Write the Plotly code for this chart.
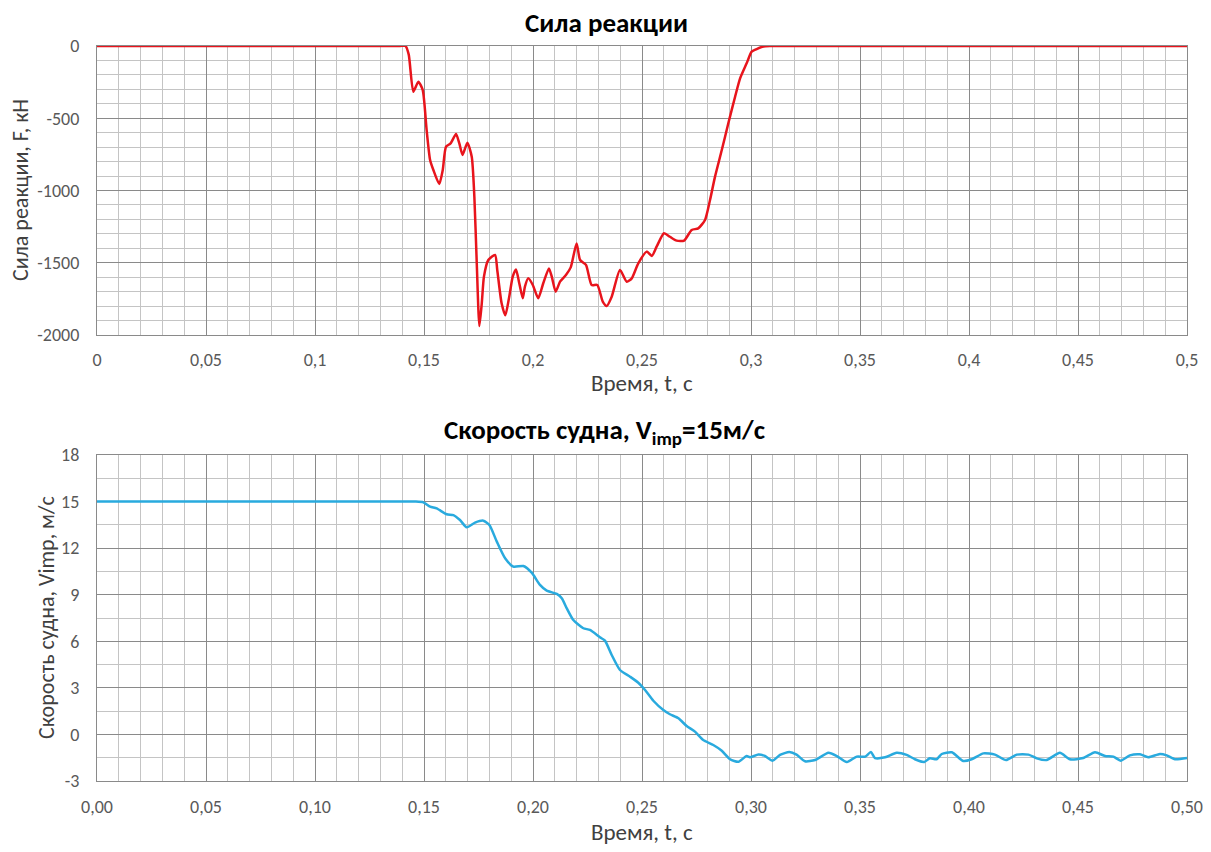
import plotly.graph_objects as go

# ---- data ----
t_force = [0.0, 0.139, 0.1415, 0.1430, 0.1451, 0.1474, 0.1494, 0.1512, 0.1528, 0.1543, 0.1570,
           0.1586, 0.1601, 0.1622, 0.1647, 0.1662, 0.1677, 0.1699, 0.1719, 0.1731, 0.1742,
           0.1754, 0.1765, 0.1775, 0.1795, 0.1826, 0.1836, 0.1856, 0.1873, 0.1891, 0.1907,
           0.1922, 0.1937, 0.1953, 0.1963, 0.1978, 0.1999, 0.2024, 0.2047, 0.2073, 0.2086,
           0.2104, 0.2124, 0.2151, 0.2173, 0.2200, 0.2216, 0.2243, 0.2269, 0.2295, 0.2320,
           0.2338, 0.2361, 0.2399, 0.2430, 0.2453, 0.2483, 0.2522, 0.2545, 0.2567, 0.2601,
           0.2628, 0.2659, 0.2693, 0.2728, 0.2758, 0.2789, 0.2812, 0.2835, 0.2866, 0.2896,
           0.2927, 0.2950, 0.2980, 0.3003, 0.3026, 0.3057, 0.3090, 0.3150, 0.500]
force = [0, 0, 0, -60, -316, -247, -304, -581, -789, -858, -955,
         -858, -697, -674, -609, -674, -754, -669, -766, -1043, -1504,
         -1938, -1781, -1596, -1481, -1446, -1550, -1781, -1864, -1735, -1596,
         -1546, -1642, -1746, -1665, -1608, -1654, -1746, -1642, -1539, -1596,
         -1700, -1631, -1585, -1532, -1366, -1481, -1515, -1654, -1654, -1769,
         -1799, -1735, -1550, -1631, -1608, -1504, -1423, -1453, -1389, -1296,
         -1320, -1347, -1347, -1273, -1262, -1204, -1066, -904, -720, -535,
         -351, -224, -120, -39, -21, -3, 0, 0, 0]

t_speed = [0.0, 0.140, 0.146, 0.1497, 0.1528, 0.1558, 0.1604, 0.1635, 0.1665, 0.1696, 0.1734, 0.1772,
           0.1800, 0.1834, 0.1872, 0.1910, 0.1956, 0.1994, 0.2032, 0.2063, 0.2109, 0.2132,
           0.2155, 0.2185, 0.2231, 0.2261, 0.2307, 0.2330, 0.2361, 0.2399, 0.2445, 0.2483,
           0.2514, 0.2552, 0.2598, 0.2628, 0.2667, 0.2705, 0.2743, 0.2781, 0.2827, 0.2866,
           0.2904, 0.2942, 0.2980, 0.2995, 0.3034, 0.3064, 0.3099, 0.3133, 0.3176, 0.3209,
           0.3248, 0.3294, 0.3355, 0.3394, 0.3439, 0.3485, 0.3524, 0.3550, 0.3569, 0.3615,
           0.3668, 0.3714, 0.3752, 0.3794, 0.3820, 0.3851, 0.3875, 0.3921, 0.3974, 0.4012,
           0.4066, 0.4119, 0.4170, 0.4219, 0.4273, 0.4311, 0.4356, 0.4417, 0.4463, 0.4524,
           0.4578, 0.4624, 0.4662, 0.4696, 0.4738, 0.4784, 0.4822, 0.4876, 0.4907, 0.4945, 0.5000]
speed = [15.0, 15.0, 15.0, 14.95, 14.67, 14.56, 14.18, 14.13, 13.81, 13.34, 13.64, 13.77,
         13.49, 12.42, 11.35, 10.81, 10.85, 10.42, 9.63, 9.26, 9.05, 8.77,
         8.12, 7.37, 6.84, 6.73, 6.26, 6.04, 5.12, 4.15, 3.72, 3.33,
         2.86, 2.17, 1.57, 1.30, 1.04, 0.54, 0.18, -0.36, -0.68, -1.05,
         -1.60, -1.76, -1.39, -1.47, -1.30, -1.39, -1.69, -1.32, -1.13, -1.30,
         -1.73, -1.65, -1.18, -1.39, -1.78, -1.43, -1.43, -1.13, -1.52, -1.47,
         -1.18, -1.32, -1.60, -1.78, -1.54, -1.60, -1.26, -1.15, -1.71, -1.60,
         -1.22, -1.30, -1.65, -1.30, -1.30, -1.54, -1.65, -1.18, -1.60, -1.52,
         -1.15, -1.39, -1.43, -1.69, -1.35, -1.28, -1.47, -1.26, -1.35, -1.60, -1.52]

x_tickvals = [0, 0.05, 0.1, 0.15, 0.2, 0.25, 0.3, 0.35, 0.4, 0.45, 0.5]
x_ticktext_top = ["0", "0,05", "0,1", "0,15", "0,2", "0,25", "0,3", "0,35", "0,4", "0,45", "0,5"]
x_ticktext_bottom = ["0,00", "0,05", "0,10", "0,15", "0,20", "0,25", "0,30", "0,35", "0,40", "0,45", "0,50"]
y_tickvals_top = [0, -500, -1000, -1500, -2000]
y_ticktext_top = ["0", "-500", "-1000", "-1500", "-2000"]
y_tickvals_bottom = [18, 15, 12, 9, 6, 3, 0, -3]
y_ticktext_bottom = ["18", "15", "12", "9", "6", "3", "0", "-3"]

FONT = "Carlito, Calibri, Lato, sans-serif"
OFF = 8                      # page body margin of the html file
W, H = 1211 - 2 * OFF, 852 - 2 * OFF
L, R, T, B = 97 - OFF, 1187 - OFF, 46 - OFF, 781 - OFF   # plotting region (figure px)
PW, PH = R - L, B - T
MAJ = "#8a8a8a"
MIN = "#c4c4c4"
TICKC = "#595959"

fig = go.Figure()
fig.add_trace(go.Scatter(x=t_force, y=force, mode="lines", xaxis="x", yaxis="y",
                         line=dict(color="#e8141c", width=2.5, shape="spline", smoothing=0.6),
                         showlegend=False, hoverinfo="skip"))
fig.add_trace(go.Scatter(x=t_speed, y=speed, mode="lines", xaxis="x2", yaxis="y2",
                         line=dict(color="#29aade", width=2.5, shape="spline", smoothing=0.6),
                         showlegend=False, hoverinfo="skip"))

def xax(ticktext, anchor, standoff):
    return dict(domain=[0, 1], range=[0, 0.5], anchor=anchor, automargin=False,
                tickmode="array", tickvals=x_tickvals, ticktext=ticktext,
                showgrid=True, gridcolor=MAJ, gridwidth=1.2,
                minor=dict(dtick=0.01, tick0=0, showgrid=True, gridcolor=MIN, gridwidth=1.2),
                showline=True, linecolor=MAJ, linewidth=1.2, mirror=True,
                zeroline=False, ticks="", ticklabelstandoff=standoff,
                tickfont=dict(family=FONT, size=18, color=TICKC))

def yax(tickvals, ticktext, rng, minor_dtick, top_ref, bot_ref, anchor):
    top_px, bot_px = top_ref - OFF, bot_ref - OFF
    return dict(domain=[(B - bot_px) / PH, (B - top_px) / PH], range=rng, anchor=anchor,
                automargin=False,
                tickmode="array", tickvals=tickvals, ticktext=ticktext,
                showgrid=True, gridcolor=MAJ, gridwidth=1.2,
                minor=dict(dtick=minor_dtick, tick0=0, showgrid=True, gridcolor=MIN, gridwidth=1.2),
                showline=True, linecolor=MAJ, linewidth=1.2, mirror=True,
                zeroline=False, ticks="", ticklabelstandoff=13,
                tickfont=dict(family=FONT, size=18, color=TICKC))

fig.update_layout(
    width=W, height=H,
    margin=dict(l=L, r=W - R, t=T, b=H - B, autoexpand=False),
    paper_bgcolor="white", plot_bgcolor="white",
    font=dict(family=FONT, color="#404040"),
    xaxis=xax(x_ticktext_top, "y", 8),
    yaxis=yax(y_tickvals_top, y_ticktext_top, [-2000, 0], 100, 46, 335, "x"),
    xaxis2=xax(x_ticktext_bottom, "y2", 9),
    yaxis2=yax(y_tickvals_bottom, y_ticktext_bottom, [-3, 18], 1.5, 455, 781, "x2"),
)

def ann(text, xr, yr, size, bold=False, angle=0, color="#404040"):
    x, y = xr - OFF, yr - OFF
    fig.add_annotation(text=("<b>%s</b>" % text) if bold else text,
                       x=(x - L) / PW, y=(B - y) / PH, xref="paper", yref="paper",
                       showarrow=False, textangle=angle, xanchor="center", yanchor="middle",
                       borderpad=0,
                       font=dict(family=FONT, size=size, color=color))

ann("Сила реакции", 606, 23, 27, bold=True, color="#000000")
ann("Скорость судна, V<sub>imp</sub>=15м/с", 605, 431, 27, bold=True, color="#000000")
ann("Время, t, с", 642, 383, 23)
ann("Время, t, с", 642, 832, 23)
ann("Сила реакции, F, кН", 20, 190, 22, angle=-90)
ann("Скорость судна, Vimp, м/с", 46, 618, 22, angle=-90)

fig.write_html("out.html")
